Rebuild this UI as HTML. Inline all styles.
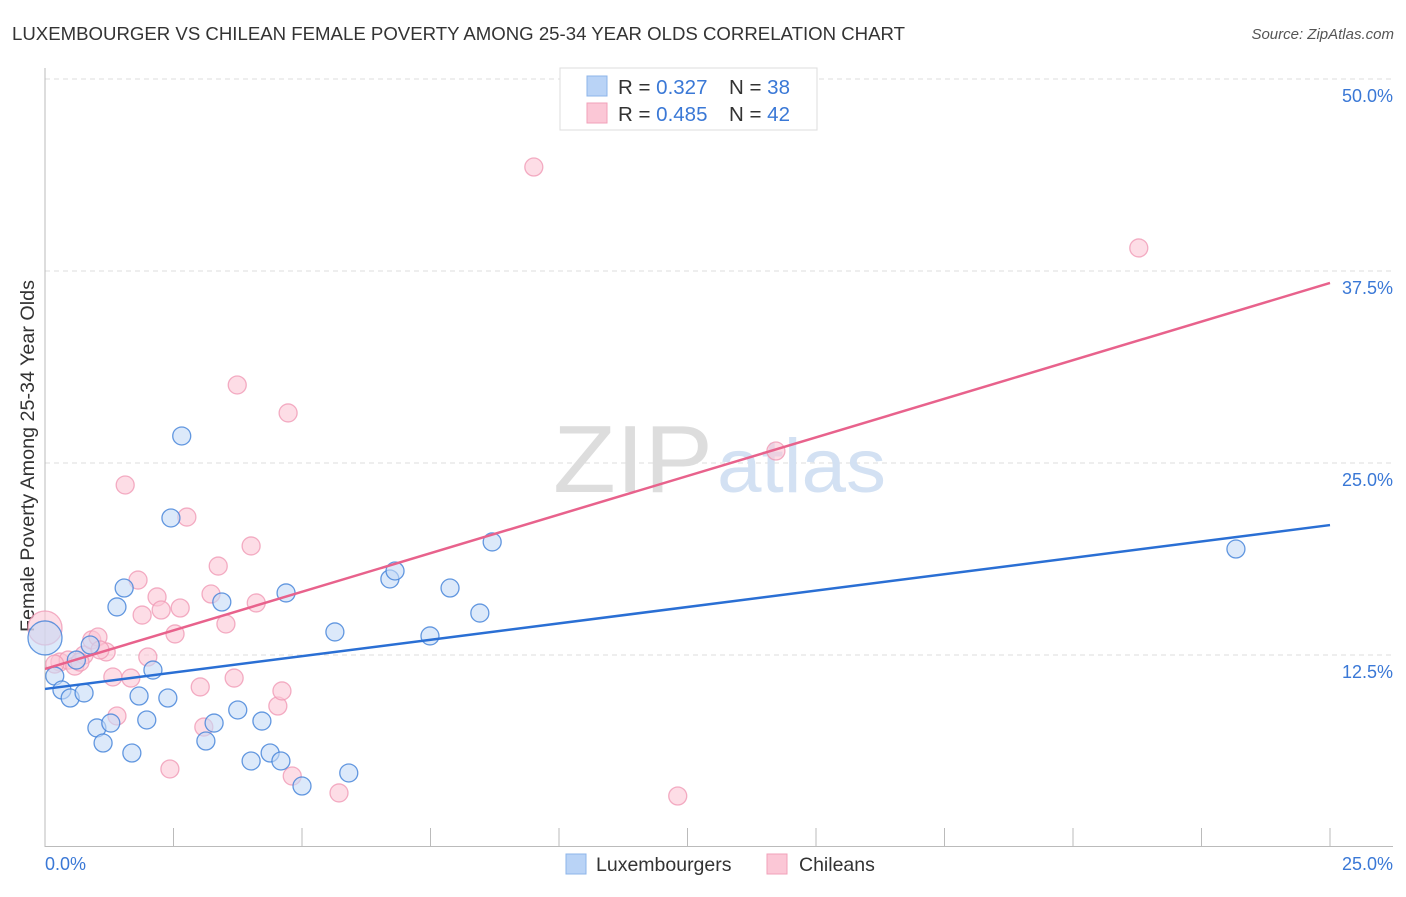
<!DOCTYPE html>
<html><head><meta charset="utf-8"><style>
body{margin:0;background:#fff;font-family:"Liberation Sans",sans-serif;}
svg text{font-family:"Liberation Sans",sans-serif;}
</style></head><body>
<svg id="chart" width="1406" height="892" viewBox="0 0 1406 892" xmlns="http://www.w3.org/2000/svg">
<text x="12" y="40" font-size="18.5" fill="#333" textLength="893" lengthAdjust="spacingAndGlyphs">LUXEMBOURGER VS CHILEAN FEMALE POVERTY AMONG 25-34 YEAR OLDS CORRELATION CHART</text>
<text x="1394" y="39" font-size="15" fill="#555" text-anchor="end" font-style="italic">Source: ZipAtlas.com</text>
<text x="34" y="456" font-size="19" fill="#333" text-anchor="middle" textLength="352" lengthAdjust="spacingAndGlyphs" transform="rotate(-90 34 456)">Female Poverty Among 25-34 Year Olds</text>
<g id="grid"></g>
<g><text x="553" y="492" font-size="96" fill="#ddd" font-family="Liberation Serif" textLength="160" lengthAdjust="spacingAndGlyphs">ZIP</text><text x="717" y="492" font-size="76" fill="#d3e1f3" textLength="169" lengthAdjust="spacingAndGlyphs">atlas</text></g>
<line x1="45" y1="68" x2="45" y2="847" stroke="#bbb"/>
<line x1="45" y1="846.5" x2="1393" y2="846.5" stroke="#bbb"/>
<g id="xticks"></g>
<g id="pts"></g>
<g id="trends"></g>
<text x="45" y="870" font-size="18" fill="#3a78d6">0.0%</text>
<text x="1393" y="870" font-size="18" fill="#3a78d6" text-anchor="end">25.0%</text>
<g>
<rect x="560" y="68" width="257" height="62" fill="#fff" stroke="#ddd"/>
<rect x="587" y="76" width="20" height="20" fill="#b9d3f6" stroke="#8db4ea"/>
<rect x="587" y="103" width="20" height="20" fill="#fbc7d6" stroke="#f2a0b9"/>
<text x="618" y="94" font-size="20.5" fill="#333">R = <tspan fill="#3a78d6">0.327</tspan></text>
<text x="729" y="94" font-size="20.5" fill="#333">N = <tspan fill="#3a78d6">38</tspan></text>
<text x="618" y="121" font-size="20.5" fill="#333">R = <tspan fill="#3a78d6">0.485</tspan></text>
<text x="729" y="121" font-size="20.5" fill="#333">N = <tspan fill="#3a78d6">42</tspan></text>
</g>
<g>
<rect x="566" y="854" width="20" height="20" fill="#b9d3f6" stroke="#8db4ea"/>
<text x="596" y="871" font-size="19.5" fill="#333">Luxembourgers</text>
<rect x="767" y="854" width="20" height="20" fill="#fbc7d6" stroke="#f2a0b9"/>
<text x="799" y="871" font-size="19.5" fill="#333">Chileans</text>
</g>
</svg>
<script>
const yTicks=[12.5,25,37.5,50];
const yTickLabels=["12.5%","25.0%","37.5%","50.0%"];
const xTickVals=[0,2.5,5,7.5,10,12.5,15,17.5,20,22.5,25];
const luxX=[0,0.19,0.33,0.49,0.61,0.76,0.88,1.01,1.13,1.28,1.40,1.54,1.69,1.83,1.98,2.10,2.39,2.45,2.66,3.13,3.29,3.44,3.75,4.01,4.22,4.38,4.59,4.69,5.00,5.64,5.91,6.71,6.81,7.49,7.88,8.46,8.70,23.17];
const luxY=[13.61,11.13,10.22,9.70,12.17,10.03,13.15,7.75,6.77,8.07,15.63,16.86,6.12,9.83,8.27,11.52,9.70,21.42,26.76,6.90,8.07,15.95,8.92,5.60,8.20,6.12,5.60,16.54,3.97,14.00,4.82,17.45,17.97,13.74,16.86,15.23,19.86,19.40];
const chlX=[0,0.29,0.45,0.58,0.76,0.91,1.03,1.19,1.32,1.40,1.56,1.67,1.81,1.89,2.00,2.18,2.26,2.43,2.53,2.63,2.76,3.02,3.09,3.23,3.37,3.52,3.68,3.74,4.01,4.11,4.53,4.61,4.73,4.81,5.72,9.51,12.31,14.22,21.28,0.19,1.07,0.68];
const chlY=[14.26,12.04,12.17,11.78,12.50,13.48,13.67,12.70,11.07,8.53,23.57,11.00,17.38,15.10,12.37,16.28,15.43,5.08,13.87,15.56,21.48,10.42,7.81,16.47,18.29,14.52,11.00,30.08,19.60,15.89,9.18,10.16,28.26,4.62,3.52,44.27,3.32,25.78,39.00,11.91,12.83,12.04];
const luxTrend=[10.29,20.96];
const chlTrend=[11.59,36.72];
const NS='http://www.w3.org/2000/svg';
const sx=v=>45+v/25*1285;
const sy=v=>847-v/12.5*192;
function mk(tag,attrs,parent){const e=document.createElementNS(NS,tag);for(const k in attrs)e.setAttribute(k,attrs[k]);parent.appendChild(e);return e;}
const grid=document.getElementById('grid');
yTicks.forEach((t,i)=>{
  const l=mk('line',{x1:45,x2:1393,y1:sy(t),y2:sy(t),stroke:'#ddd','stroke-dasharray':'5,4'},grid);
  
  
  const tx=mk('text',{x:1393,y:sy(t)+23,'font-size':18,fill:'#3a78d6','text-anchor':'end'},grid);
  tx.textContent=yTickLabels[i];
  
  
});
const xt=document.getElementById('xticks');
xTickVals.forEach(v=>{
  const l=mk('line',{x1:sx(v),x2:sx(v),y1:828,y2:847,stroke:'#bbb'},xt);
  
  
});
const pts=document.getElementById('pts');
function dots(X,Y,fill,stroke,name){
  X.forEach((x,i)=>{
    const r=(i===0)?17:9;
    const c=mk('circle',{cx:sx(x),cy:sy(Y[i]),r:r,fill:fill,'fill-opacity':0.6,stroke:stroke,'stroke-width':1.3,'stroke-opacity':0.8},pts);
    
    
  });
}
dots(chlX,chlY,'#fbc7d6','#f09ab5','chilean-point');
dots(luxX,luxY,'#c4dbf7','#3f7fd8','luxembourger-point');
const tr=document.getElementById('trends');
const l1=mk('line',{x1:sx(0),y1:sy(luxTrend[0]),x2:sx(25),y2:sy(luxTrend[1]),stroke:'#2a6fd4','stroke-width':2.5},tr);


const l2=mk('line',{x1:sx(0),y1:sy(chlTrend[0]),x2:sx(25),y2:sy(chlTrend[1]),stroke:'#e8628c','stroke-width':2.5},tr);


</script>
</body></html>
